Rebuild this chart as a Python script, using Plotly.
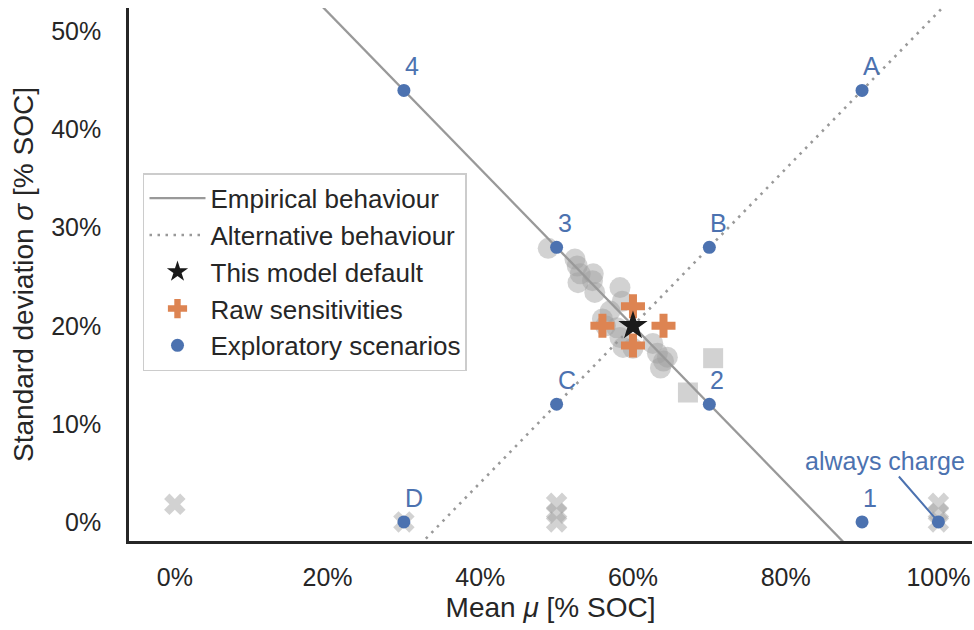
import plotly.graph_objects as go

# Reference lines (sigma as a linear function of mu, both in % SOC)
line_mu = [0, 110]
empirical_sigma = [68, -20]      # sigma = 44 - 0.8 * (mu - 30)
alternative_sigma = [-28, 60]    # sigma = 44 + 0.8 * (mu - 90)

# Default model point
default_mu = [60]
default_sigma = [20]

# Raw sensitivity points
raw_mu = [56, 64, 60, 60]
raw_sigma = [20, 20, 22, 18]

# Exploratory scenarios
scen_labels = ["4", "A", "3", "B", "C", "2", "D", "1", ""]
scen_mu = [30, 90, 50, 70, 50, 70, 30, 90, 100]
scen_sigma = [44, 44, 28, 28, 12, 12, 0, 0, 0]

# Observed behaviour (background, grey)
obs_circle_mu = [48.9, 52.4, 52.7, 53.1, 52.8, 54.8, 54.7, 55.0, 58.3, 58.6, 57.0,
                 56.0, 56.4, 57.9, 58.3, 58.7, 60.0, 62.6, 63.2, 64.0, 64.5, 63.6]
obs_circle_sigma = [27.9, 26.8, 26.1, 25.3, 24.4, 25.3, 24.6, 23.4, 23.9, 22.5, 21.5,
                    20.7, 20.0, 19.8, 18.8, 17.8, 17.7, 18.2, 17.2, 16.4, 16.8, 15.7]
obs_square_mu = [70.5, 67.2]
obs_square_sigma = [16.7, 13.2]
obs_x_mu = [0, 30, 50, 50, 50, 100, 100, 100]
obs_x_sigma = [1.8, 0, 1.9, 0.9, 0, 1.9, 0.9, 0]

# Axis ticks
x_ticks = [0, 20, 40, 60, 80, 100]
y_ticks = [0, 10, 20, 30, 40, 50]
x_ticktext = [f"{v}%" for v in x_ticks]
y_ticktext = [f"{v}%" for v in y_ticks]

BLUE = "#4c72b0"
ORANGE = "#dd8452"
GREY_FILL = "rgba(159,159,159,0.47)"
TEXT = "#262626"
FONT = "Liberation Sans, Arial, sans-serif"

fig = go.Figure()

fig.add_trace(go.Scatter(x=obs_circle_mu, y=obs_circle_sigma, mode="markers",
                         marker=dict(symbol="circle", size=21, color=GREY_FILL, line=dict(width=0)),
                         showlegend=False, hoverinfo="skip"))
fig.add_trace(go.Scatter(x=obs_square_mu, y=obs_square_sigma, mode="markers",
                         marker=dict(symbol="square", size=20, color=GREY_FILL, line=dict(width=0)),
                         showlegend=False, hoverinfo="skip"))
fig.add_trace(go.Scatter(x=obs_x_mu, y=obs_x_sigma, mode="markers",
                         marker=dict(symbol="x", size=19, color=GREY_FILL, line=dict(width=0)),
                         showlegend=False, hoverinfo="skip"))

fig.add_trace(go.Scatter(x=line_mu, y=empirical_sigma, mode="lines",
                         line=dict(color="#999999", width=2.3),
                         name="Empirical behaviour", legendrank=1))
fig.add_trace(go.Scatter(x=line_mu, y=alternative_sigma, mode="lines",
                         line=dict(color="#999999", width=2.6, dash="2.5px,5.5px"),
                         name="Alternative behaviour", legendrank=2))

fig.add_trace(go.Scatter(x=raw_mu, y=raw_sigma, mode="markers",
                         marker=dict(symbol="cross", size=20, color=ORANGE, line=dict(width=0)),
                         name="Raw sensitivities", legendrank=4))
fig.add_trace(go.Scatter(x=default_mu, y=default_sigma, mode="markers",
                         marker=dict(symbol="star", size=22, color="#1a1a1a", line=dict(width=0)),
                         name="This model default", legendrank=3))
fig.add_trace(go.Scatter(x=scen_mu, y=scen_sigma, mode="markers",
                         marker=dict(symbol="circle", size=13, color=BLUE, line=dict(width=0)),
                         name="Exploratory scenarios", legendrank=5))

for lab, m, s in zip(scen_labels, scen_mu, scen_sigma):
    if lab:
        fig.add_annotation(x=m, y=s, text=lab, showarrow=False,
                           xanchor="left", yanchor="bottom", xshift=-1, yshift=8,
                           font=dict(family=FONT, size=25, color=BLUE))

fig.add_annotation(x=scen_mu[-1], y=scen_sigma[-1], text="always charge",
                   showarrow=True, arrowhead=0, arrowwidth=2, arrowcolor=BLUE,
                   ax=-53, ay=-61, standoff=2,
                   font=dict(family=FONT, size=25, color=BLUE))

fig.update_layout(
    width=974, height=630,
    margin=dict(l=129, r=2, t=8, b=89),
    paper_bgcolor="white", plot_bgcolor="white",
    font=dict(family=FONT, size=25, color=TEXT),
    legend=dict(x=0.0166, y=0.69, xanchor="left", yanchor="top",
                bgcolor="rgba(255,255,255,0.8)", bordercolor="#cccccc", borderwidth=1.5,
                font=dict(family=FONT, size=26, color=TEXT), tracegroupgap=0,
                itemwidth=56),
    showlegend=True,
)
fig.update_xaxes(range=[-6.0, 104.4], tickmode="array", tickvals=x_ticks, ticktext=x_ticktext,
                 showgrid=False, zeroline=False, showline=True, linecolor=TEXT, linewidth=2.5,
                 ticks="", ticklabelstandoff=12, tickfont=dict(size=25),
                 title=dict(text="Mean <i>μ</i> [% SOC]", standoff=8,
                            font=dict(family=FONT, size=28, color=TEXT)))
fig.update_yaxes(range=[-1.94, 52.4], tickmode="array", tickvals=y_ticks, ticktext=y_ticktext,
                 showgrid=False, zeroline=False, showline=True, linecolor=TEXT, linewidth=2.5,
                 ticks="", ticklabelstandoff=20, tickfont=dict(size=25),
                 title=dict(text="Standard deviation <i>σ</i> [% SOC]", standoff=10,
                            font=dict(family=FONT, size=28, color=TEXT)))

fig.write_html("out.html")
